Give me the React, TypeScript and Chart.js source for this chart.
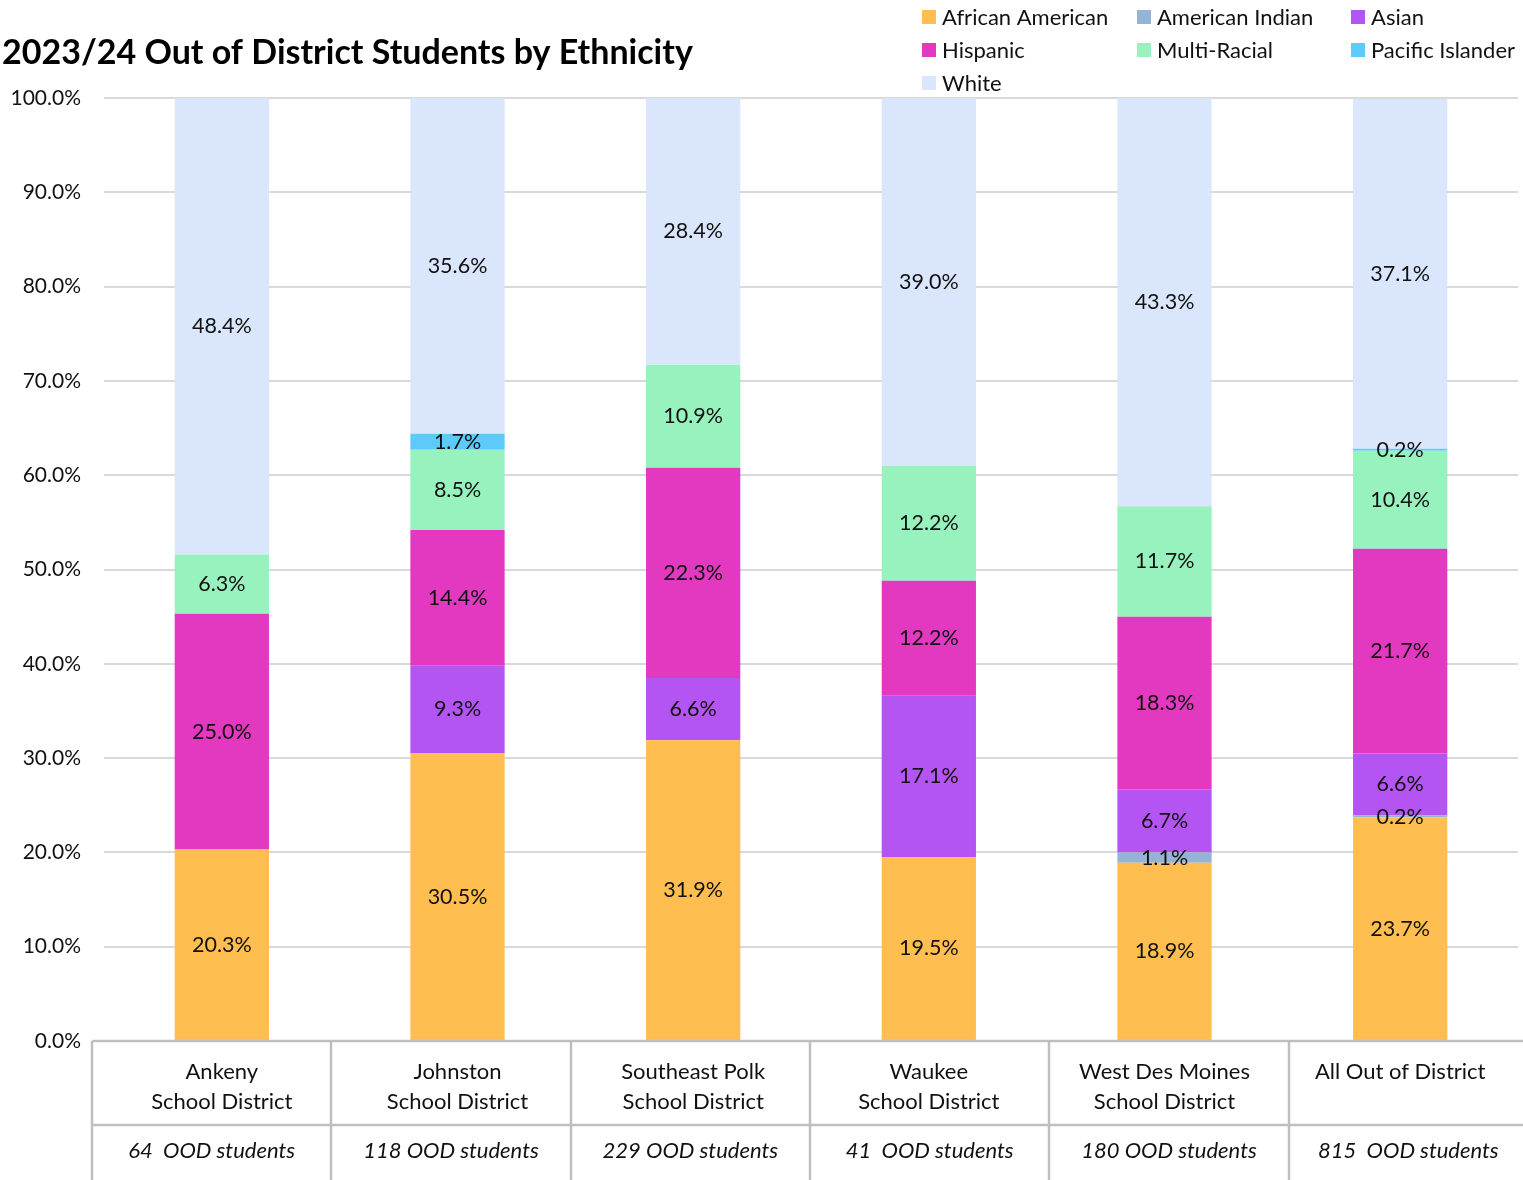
import React, { useEffect, useRef } from "react";
import { Chart, registerables } from "chart.js";

Chart.register(...registerables);

const TITLE = "2023/24 Out of District Students by Ethnicity";
const districts: string[][] = [
  ["Ankeny", "School District"],
  ["Johnston", "School District"],
  ["Southeast Polk", "School District"],
  ["Waukee", "School District"],
  ["West Des Moines", "School District"],
  ["All Out of District"],
];
const studentCounts = [
  "64  OOD students",
  "118 OOD students",
  "229 OOD students",
  "41  OOD students",
  "180 OOD students",
  "815  OOD students",
];
const seriesNames = [
  "African American",
  "American Indian",
  "Asian",
  "Hispanic",
  "Multi-Racial",
  "Pacific Islander",
  "White",
];
const africanAmerican = [20.3, 30.5, 31.9, 19.5, 18.9, 23.7];
const americanIndian = [0, 0, 0, 0, 1.1, 0.2];
const asian = [0, 9.3, 6.6, 17.1, 6.7, 6.6];
const hispanic = [25.0, 14.4, 22.3, 12.2, 18.3, 21.7];
const multiRacial = [6.3, 8.5, 10.9, 12.2, 11.7, 10.4];
const pacificIslander = [0, 1.7, 0, 0, 0, 0.2];
const white = [48.4, 35.6, 28.4, 39.0, 43.3, 37.1];
const yTicks = [0, 10, 20, 30, 40, 50, 60, 70, 80, 90, 100];

const colors = ["#FFBE4F", "#95B3D7", "#B454F2", "#E338C0", "#98F2BE", "#5CCBFA", "#D9E6FB"];
const FONT = "Lato, 'Open Sans', sans-serif";

const overlayPlugin = {
  id: "overlay",
  afterDatasetsDraw(chart: any) {
    const ctx = chart.ctx;
    ctx.save();
    ctx.font = `21.5px ${FONT}`;
    ctx.fillStyle = "#111";
    ctx.textAlign = "center";
    ctx.textBaseline = "middle";
    chart.data.datasets.forEach((ds: any, di: number) => {
      const meta = chart.getDatasetMeta(di);
      meta.data.forEach((bar: any, i: number) => {
        const v = ds.data[i];
        if (!v) return;
        const cy = (bar.y + bar.base) / 2;
        ctx.fillText(v.toFixed(1) + "%", bar.x, cy);
      });
    });
    ctx.restore();
  },
  afterDraw(chart: any) {
    const ctx = chart.ctx;
    const area = chart.chartArea;
    const x = chart.scales.x;
    const H = chart.height;
    ctx.save();
    // title
    ctx.font = `bold 34px ${FONT}`;
    ctx.fillStyle = "#000";
    ctx.textAlign = "left";
    ctx.textBaseline = "alphabetic";
    ctx.fillText(TITLE, 2, 64);

    // legend
    const colX = [922, 1137, 1351];
    const rowY = [17, 50, 83];
    ctx.font = `22px ${FONT}`;
    ctx.textBaseline = "middle";
    seriesNames.forEach((name, i) => {
      const cx = colX[i % 3];
      const cy = rowY[Math.floor(i / 3)];
      ctx.fillStyle = colors[i];
      ctx.fillRect(cx, cy - 7, 14, 14);
      ctx.fillStyle = "#111";
      ctx.fillText(name, cx + 20, cy + 1);
    });

    // category table
    const left = area.left - 12;
    const colW = (area.right + 10 - left) / districts.length;
    const top = area.bottom;
    const mid = top + 84;
    ctx.strokeStyle = "#BFBFBF";
    ctx.lineWidth = 2.5;
    ctx.beginPath();
    ctx.moveTo(left, top);
    ctx.lineTo(chart.width, top);
    ctx.moveTo(left, mid);
    ctx.lineTo(chart.width, mid);
    for (let i = 0; i < districts.length; i++) {
      const bx = Math.round(left + i * colW);
      ctx.moveTo(bx, top);
      ctx.lineTo(bx, H);
    }
    ctx.stroke();

    ctx.fillStyle = "#111";
    ctx.textAlign = "center";
    ctx.textBaseline = "middle";
    ctx.font = `22px ${FONT}`;
    districts.forEach((lines, i) => {
      const cx = x.getPixelForValue(i);
      lines.forEach((ln, j) => ctx.fillText(ln, cx, top + 31 + j * 30));
    });
    ctx.font = `italic 22px ${FONT}`;
    studentCounts.forEach((s, i) => {
      const cx = left + (i + 0.5) * colW;
      ctx.fillText(s, cx, top + 110);
    });
    ctx.restore();
  },
};

export default function App() {
  const ref = useRef<HTMLCanvasElement>(null);
  useEffect(() => {
    document.body.style.margin = "0";
    document.body.style.overflow = "hidden";
    const series = [africanAmerican, americanIndian, asian, hispanic, multiRacial, pacificIslander, white];
    const chart = new Chart(ref.current!, {
      type: "bar",
      data: {
        labels: districts.map((d) => d.join(" ")),
        datasets: series.map((data, i) => ({
          label: seriesNames[i],
          data,
          backgroundColor: colors[i],
          borderWidth: 0,
          categoryPercentage: 1,
          barPercentage: 0.4,
        })),
      },
      options: {
        animation: false,
        responsive: false,
        maintainAspectRatio: false,
        layout: { padding: { top: 98, right: 5, bottom: 139, left: 0 } },
        plugins: {
          legend: { display: false },
          title: { display: false },
          tooltip: { enabled: false },
        },
        scales: {
          x: {
            stacked: true,
            display: false,
          },
          y: {
            stacked: true,
            min: 0,
            max: 100,
            afterFit: (s: any) => {
              s.width = 104;
            },
            afterBuildTicks: (s: any) => {
              s.ticks = yTicks.map((v) => ({ value: v }));
            },
            border: { display: false },
            grid: { color: "#D9D9D9", lineWidth: 2, drawTicks: false },
            ticks: {
              padding: 23,
              color: "#111",
              font: { family: FONT, size: 21 },
              callback: (v: any) => Number(v).toFixed(1) + "%",
            },
          },
        },
      },
      plugins: [overlayPlugin],
    });
    return () => chart.destroy();
  }, []);
  return <canvas ref={ref} width={1523} height={1180} style={{ display: "block" }} />;
}
